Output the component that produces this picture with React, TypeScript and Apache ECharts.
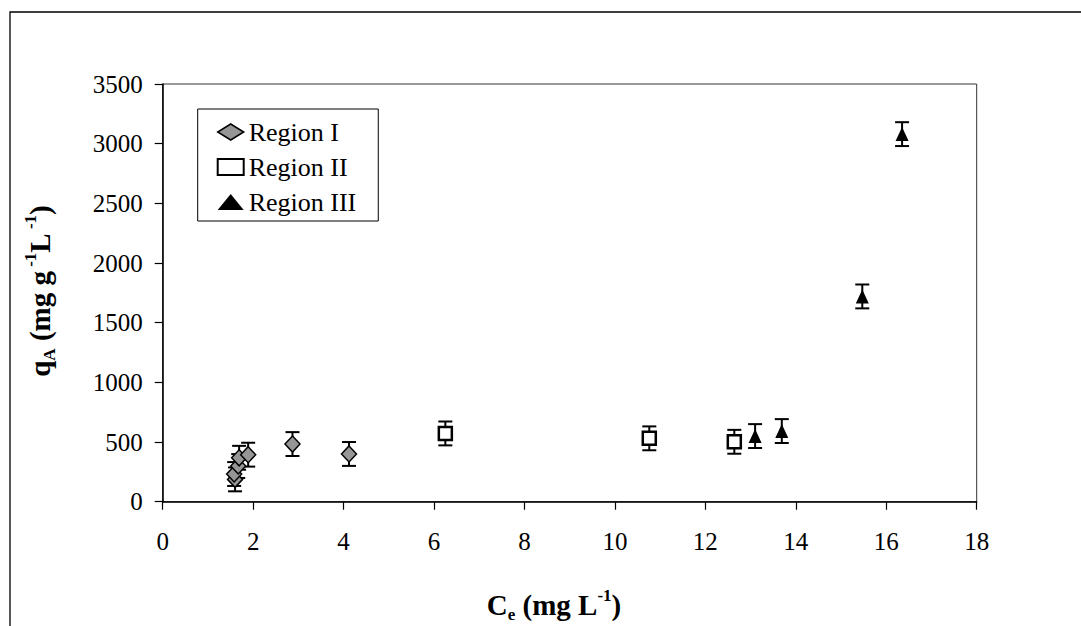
import React, { useEffect, useRef } from "react";
import * as echarts from "echarts";

const FONT = "'Liberation Serif', 'Times New Roman', serif";

// Region I (diamonds)
const regionIX = [1.6, 1.58, 1.67, 1.69, 1.89, 2.87, 4.12];
const regionIY = [187, 232, 299, 368, 394, 483, 400];
const regionIErr = [100, 100, 100, 100, 100, 100, 100];

// Region II (squares)
const regionIIX = [6.25, 10.76, 12.64];
const regionIIY = [572, 531, 502];
const regionIIErr = [100, 100, 100];

// Region III (triangles)
const regionIIIX = [13.1, 13.69, 15.47, 16.35];
const regionIIIY = [550, 592, 1720, 3080];
const regionIIIErr = [100, 100, 100, 100];

const seriesNames = ["Region I", "Region II", "Region III"];

const xTicks = { min: 0, max: 18, interval: 2 };
const yTicks = { min: 0, max: 3500, interval: 500 };

function pts(xs: number[], ys: number[]) {
  return xs.map((x, i) => [x, ys[i]]);
}
function errPts(xs: number[], ys: number[], es: number[]) {
  return xs.map((x, i) => [x, ys[i], es[i]]);
}

const errorRender = (params: any, api: any) => {
  const x = api.value(0);
  const y = api.value(1);
  const e = api.value(2);
  const top = api.coord([x, y + e]);
  const bot = api.coord([x, y - e]);
  const hw = 7;
  const style = { stroke: "#000", lineWidth: 2 };
  return {
    type: "group",
    children: [
      { type: "line", shape: { x1: top[0], y1: top[1], x2: bot[0], y2: bot[1] }, style },
      { type: "line", shape: { x1: top[0] - hw, y1: top[1], x2: top[0] + hw, y2: top[1] }, style },
      { type: "line", shape: { x1: bot[0] - hw, y1: bot[1], x2: bot[0] + hw, y2: bot[1] }, style },
    ],
  };
};

const styleI = { color: "#969696", borderColor: "#000", borderWidth: 1.5, opacity: 1 };
const styleII = { color: "#fff", borderColor: "#000", borderWidth: 2.5, opacity: 1 };
const styleIII = { color: "#000", borderColor: "#000", borderWidth: 0, opacity: 1 };

export default function App() {
  const ref = useRef<HTMLDivElement>(null);
  useEffect(() => {
    if (!ref.current) return;
    const chart = echarts.init(ref.current, null, { renderer: "svg" });
    const rich = {
      m: { fontSize: 29, fontWeight: "bold", fontFamily: FONT, fill: "#000", lineHeight: 36, verticalAlign: "middle" },
      sub: { fontSize: 17, fontWeight: "bold", fontFamily: FONT, fill: "#000", lineHeight: 20, verticalAlign: "bottom" },
      sup: { fontSize: 17, fontWeight: "bold", fontFamily: FONT, fill: "#000", lineHeight: 20, verticalAlign: "top" },
    };
    const option: any = {
      animation: false,
      backgroundColor: "#fff",
      grid: {
        left: 162.7,
        right: 104.3,
        top: 84,
        bottom: 124.3,
        show: true,
        borderColor: "#333",
        borderWidth: 1,
        backgroundColor: "transparent",
      },
      xAxis: {
        type: "value",
        min: xTicks.min,
        max: xTicks.max,
        interval: xTicks.interval,
        axisLine: { show: true, onZero: false, lineStyle: { color: "#000", width: 1.5 } },
        axisTick: { show: true, length: 8, lineStyle: { color: "#000", width: 1.2 } },
        axisLabel: { color: "#000", fontSize: 25, fontFamily: FONT, margin: 27, formatter: (v: number) => String(v) },
        splitLine: { show: false },
      },
      yAxis: {
        type: "value",
        min: yTicks.min,
        max: yTicks.max,
        interval: yTicks.interval,
        axisLine: { show: true, onZero: false, lineStyle: { color: "#000", width: 1.5 } },
        axisTick: { show: true, length: 8, lineStyle: { color: "#000", width: 1.2 } },
        axisLabel: { color: "#000", fontSize: 25, fontFamily: FONT, margin: 20, formatter: (v: number) => String(v) },
        splitLine: { show: false },
      },
      legend: {
        orient: "vertical",
        left: 197.7,
        top: 109,
        padding: [10, 22, 6, 19],
        itemGap: 9,
        itemWidth: 26,
        itemHeight: 16,
        symbolKeepAspect: true,
        borderColor: "#000",
        borderWidth: 1,
        backgroundColor: "#fff",
        selectedMode: false,
        textStyle: { fontSize: 26, fontFamily: FONT, color: "#000" },
        data: [
          { name: seriesNames[0], icon: "diamond", itemStyle: styleI },
          { name: seriesNames[1], icon: "rect", itemStyle: { ...styleII, borderWidth: 2 } },
          { name: seriesNames[2], icon: "triangle", itemStyle: styleIII },
        ],
      },
      graphic: [
        {
          type: "rect",
          z: -10,
          silent: true,
          shape: { x: 10, y: 12, width: 1200, height: 1000 },
          style: { fill: "none", stroke: "#000", lineWidth: 1.3 },
        },
        {
          type: "text",
          x: 554,
          y: 605,
          style: {
            text: "{m|C}{sub|e}{m| (mg L}{sup|-1}{m|)}",
            align: "center",
            verticalAlign: "middle",
            rich,
          },
        },
        {
          type: "text",
          x: 40,
          y: 291,
          rotation: Math.PI / 2,
          style: {
            text: "{m|q}{sub|A}{m| (mg g}{sup| -1}{m|L}{sup| -1}{m|)}",
            align: "center",
            verticalAlign: "middle",
            rich,
          },
        },
      ],
      series: [
        { type: "custom", name: "errI", renderItem: errorRender, data: errPts(regionIX, regionIY, regionIErr), encode: { x: 0, y: 1 }, z: 1, silent: true },
        { type: "custom", name: "errII", renderItem: errorRender, data: errPts(regionIIX, regionIIY, regionIIErr), encode: { x: 0, y: 1 }, z: 1, silent: true },
        { type: "custom", name: "errIII", renderItem: errorRender, data: errPts(regionIIIX, regionIIIY, regionIIIErr), encode: { x: 0, y: 1 }, z: 1, silent: true },
        { type: "scatter", name: seriesNames[0], symbol: "diamond", symbolSize: [15, 16], itemStyle: styleI, data: pts(regionIX, regionIY), z: 3 },
        { type: "scatter", name: seriesNames[1], symbol: "rect", symbolSize: 13, itemStyle: styleII, data: pts(regionIIX, regionIIY), z: 3 },
        { type: "scatter", name: seriesNames[2], symbol: "triangle", symbolSize: [13, 14], itemStyle: styleIII, data: pts(regionIIIX, regionIIIY), z: 3 },
      ],
    };
    chart.setOption(option);
    return () => chart.dispose();
  }, []);
  return (
    <div
      ref={ref}
      style={{ position: "fixed", left: 0, top: 0, width: 1081, height: 626, background: "#fff" }}
    />
  );
}
